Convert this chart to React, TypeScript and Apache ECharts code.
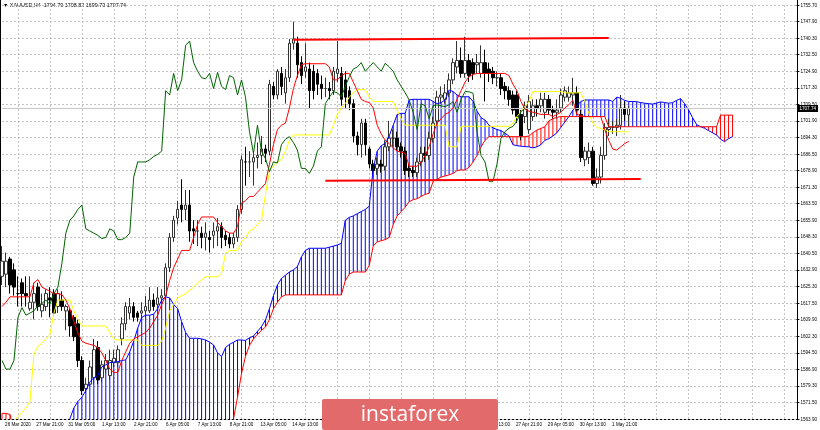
import { useEffect, useRef } from 'react';
import * as echarts from 'echarts';

// y-axis tick labels, bottom to top
const priceLabels = ['1563.90','1571.50','1579.30','1586.90','1594.50','1602.30','1609.90','1617.50','1625.30','1632.90','1640.50','1648.30','1655.90','1663.50','1671.30','1678.90','1686.50','1694.30','1701.90','1709.50','1717.30','1724.90','1732.50','1740.30','1747.90','1755.70'];
const priceMin = 1563.9;
const priceMax = 1755.7;

// time labels, one every 8 bars (those under the logo are not drawn)
const timeLabels = ['26 Mar 2020','27 Mar 21:00','31 Mar 05:00','1 Apr 13:00','2 Apr 21:00','6 Apr 05:00','7 Apr 13:00','8 Apr 21:00','13 Apr 05:00','14 Apr 13:00','15 Apr 21:00','17 Apr 05:00','20 Apr 13:00','21 Apr 21:00','23 Apr 05:00','24 Apr 13:00','27 Apr 21:00','29 Apr 05:00','30 Apr 13:00','1 May 21:00'];
const labelsUnderLogo = [10, 11, 12, 13, 14];

const headerText = 'XAUUSD,H4  1704.79 1708.82 1699.73 1707.74';
const lastClose = 1707.74;

const open = [
1630,1631,1638,1633,1622,1627,1622,1615,1618,1625,
1614,1616,1620,1622,1616,1619,1614,1614,1611,1608,
1591,1578,1580,1583,1597,1583,1587,1584,1590,1590,
1601,1608,1613,1616,1613,1613,1614,1614,1619,1617,
1620,1621,1634,1648,1657,1663,1661,1663,1652,1651,
1650,1648,1648,1649,1651,1653,1649,1648,1645,1648,
1661,1683,1683,1683,1685,1686,1689,1688,1718,1714,
1724,1715,1722,1738,1738,1729,1725,1726,1725,1724,
1719,1717,1717,1716,1724,1724,1721,1716,1710,1695,
1691,1701,1689,1682,1680,1682,1681,1690,1694,1694,
1690,1688,1680,1679,1678,1683,1687,1686,1694,1702,
1713,1712,1715,1721,1727,1730,1724,1730,1729,1728,
1724,1729,1726,1725,1722,1722,1718,1716,1714,1714,
1705,1704,1698,1704,1709,1709,1706,1712,1707,1706,
1708,1713,1713,1714,1715,1705,1684,1685,1688,1673,
1676,1686,1698,1699,1699,1700,1708,1704.79];
const high = [
1644,1641,1639,1636,1630,1629,1630,1630,1627,1627,
1622,1624,1625,1624,1624,1623,1617,1615,1612,1610,
1593,1583,1591,1601,1600,1591,1594,1596,1596,1598,
1611,1618,1620,1618,1614,1618,1621,1625,1622,1625,
1624,1636,1650,1658,1665,1675,1670,1670,1656,1656,
1653,1655,1651,1655,1657,1655,1651,1650,1650,1663,
1686,1690,1688,1688,1692,1695,1691,1721,1720,1726,
1727,1726,1740,1748,1741,1732,1738,1729,1728,1726,
1723,1722,1720,1727,1739,1727,1725,1718,1712,1697,
1703,1703,1690,1684,1685,1684,1693,1702,1698,1697,
1692,1690,1682,1681,1685,1690,1690,1697,1704,1716,
1718,1719,1724,1731,1739,1736,1741,1733,1731,1733,
1737,1735,1729,1727,1725,1724,1720,1718,1716,1716,
1707,1711,1714,1712,1712,1715,1715,1714,1709,1712,
1717,1718,1718,1722,1718,1707,1690,1692,1690,1680,
1690,1701,1703,1702,1703,1714,1711,1708.82];
const low = [
1626,1625,1622,1621,1616,1616,1616,1614,1610,1614,
1611,1614,1611,1612,1613,1614,1605,1602,1600,1588,
1575,1576,1579,1580,1580,1581,1585,1582,1588,1588,
1598,1605,1610,1609,1609,1610,1611,1613,1614,1614,
1617,1619,1632,1646,1654,1655,1656,1646,1645,1644,
1643,1642,1641,1643,1644,1643,1644,1643,1643,1646,
1659,1672,1676,1672,1680,1682,1683,1686,1712,1712,
1714,1710,1720,1735,1722,1719,1722,1708,1712,1714,
1712,1713,1712,1714,1720,1709,1708,1707,1692,1686,
1685,1686,1680,1677,1677,1678,1679,1688,1690,1688,
1685,1677,1676,1676,1676,1681,1683,1684,1692,1700,
1710,1710,1713,1719,1724,1722,1722,1720,1721,1724,
1722,1711,1720,1719,1718,1714,1712,1709,1705,1701,
1693,1701,1696,1702,1704,1706,1703,1705,1703,1703,
1706,1711,1711,1709,1705,1683,1681,1682,1672,1671,
1673,1684,1695,1696,1695,1698,1702,1699.73];
const close = [
1637,1637,1626,1625,1622,1622,1621,1618,1622,1616,
1617,1622,1619,1613,1622,1616,1616,1607,1602,1591,
1577,1580,1588,1596,1582,1589,1591,1591,1592,1596,
1608,1616,1616,1611,1611,1614,1616,1619,1616,1620,
1621,1634,1648,1656,1661,1661,1663,1651,1651,1651,
1648,1650,1647,1651,1653,1648,1647,1645,1648,1661,
1684,1683,1683,1685,1686,1689,1687,1719,1714,1725,
1718,1722,1738,1740,1728,1723,1727,1716,1716,1719,
1717,1717,1716,1725,1726,1712,1713,1710,1695,1691,
1701,1691,1682,1679,1682,1681,1690,1694,1694,1690,
1688,1679,1679,1678,1683,1687,1686,1694,1701,1713,
1714,1715,1721,1729,1730,1724,1730,1723,1724,1729,
1729,1724,1724,1722,1722,1717,1716,1712,1707,1704,
1695,1709,1711,1709,1708,1712,1712,1707,1706,1707,
1714,1716,1715,1715,1707,1685,1688,1688,1673,1676,
1686,1699,1699,1699,1700,1708,1705,1707.74];

// Tenkan-sen (red)
const tenkan = [
1616,1618,1620.5,1620.5,1620.5,1620.5,1620.5,1620.5,1627,1628.5,
1625,1624,1623,1622,1622,1621.5,1619,1615,1609,1604,
1600,1599,1598.5,1598,1597,1594.5,1591,1587,1585.5,1585.5,
1591,1595,1599,1601,1602,1603,1604,1606,1609,1612,
1617,1621,1628,1634,1638,1642,1642,1642,1648,1654,
1657.5,1657.5,1657.5,1657.5,1655,1653,1651,1650,1650,1653,
1664,1665,1667,1667,1669,1671,1673,1682,1691,1698,
1700,1701,1708,1717,1723,1728,1728.5,1728.5,1728.5,1728.5,
1728.5,1728.5,1727,1721,1721,1723,1724,1724,1720,1716,
1712,1711,1710.5,1708,1700,1696,1693,1691.5,1689.5,1688,
1687.5,1687,1681,1681,1681,1683,1686,1690,1696,1701,
1703,1705,1706,1708,1712,1716,1720,1722.5,1723.5,1724,
1724,1724,1724,1724,1724,1724,1724,1723,1719,1716,
1711,1707.5,1706.5,1706,1705.5,1705,1705,1705,1704,1705,
1706,1708,1709.5,1711.5,1705,1704.5,1704,1704,1704,1704,
1704,1698,1693,1689,1688.5,1690,1691.5,1692.5];

// Kijun-sen (yellow)
const kijun = [
1555,1557,1560,1563,1565,1567,1569,1572,1594,1597.5,
1599,1601,1603,1613,1619,1619,1619,1619,1614,1610,
1607,1607,1607,1607,1607,1607,1607,1604,1601,1600.5,
1600.5,1600.5,1600.5,1600.5,1600.5,1598,1598,1598,1598,1598,
1600,1606,1614,1617,1620,1621,1622,1623.5,1625,1627,
1628.3,1629.8,1629.8,1629.8,1629.8,1631.4,1640.7,1642,1642,1642,
1646,1648,1651,1652,1654,1656,1668,1679,1681,1683,
1684,1688,1693,1695.5,1695.5,1695.5,1695.5,1695.5,1695.5,1695.5,
1695.5,1695.5,1695.5,1700,1705,1708,1710,1713,1715,1716.5,
1716.5,1716.5,1713,1711,1711,1711,1711,1711,1711,1707,
1703,1700,1700,1700,1700,1700,1700,1700,1700,1700,
1700,1700,1690,1690,1690,1699.5,1699.5,1699.5,1699.5,1699.5,
1699.5,1699.5,1699.5,1699.5,1699.5,1699.5,1699.5,1699.5,1701,1704,
1706.3,1708.5,1711,1715.6,1715.6,1715.6,1715.6,1715.6,1715.6,1715.6,
1715.6,1715,1715,1715,1715,1715,1711,1705.5,1701,1699,
1698.5,1697.8,1697,1697,1697,1697,1697,1697];

// Chikou span (green), drawn 26 bars back
const chikou = [
1591,1587,1587,1591,1611,1615.5,1612,1613,1614,1616.5,
1617.5,1619,1617,1622,1625,1636,1650,1656,1658,1661,
1663,1652,1651,1650,1649,1647.5,1648,1652,1651,1647,
1647,1648,1650,1676,1683,1683,1683,1684,1685.5,1686.5,
1688,1716,1714,1724,1716,1721,1737,1739,1729,1725,
1722,1721.5,1724,1717,1724.5,1718,1716.5,1723,1722,1714,
1721,1713,1697,1687,1700,1688,1684.5,1678.5,1683,1682.5,
1691,1693.5,1694.7,1692,1688.5,1680,1680,1677.7,1681,1688,
1690,1710,1713,1715.6,1715,1713.2,1718,1722.5,1726,1727,
1729,1725,1727,1729,1727,1725,1728.7,1727,1725,1721,
1718,1715,1711.7,1706,1698,1710,1709,1703,1709,1709.4,
1709,1708.6,1709.5,1710.9,1706,1712,1715.6,1715.5,1714.8,1697,
1686,1683,1674,1674,1682,1694,1697,1698.6,1699.5,1702,
1706.3,1707.74];

// Senkou span A (blue), drawn 26 bars ahead
const senkouA = [
1555,1554,1553,1552,1552,1552,1552,1552,1552,1553,
1554,1555,1556,1557,1558,1560,1562,1564,1569,1572,
1574,1577,1581,1583,1584,1588,1589,1590,1590.3,1590.5,
1591,1591.3,1595,1600,1606,1611,1612,1612,1612.5,1615,
1619,1620.5,1620,1617,1615,1609,1604,1601.3,1601.3,1601.3,
1601,1600.5,1599.5,1598.2,1594.5,1592.8,1597,1598.5,1599.5,1600.5,
1600.5,1600.3,1601.5,1602.3,1604.5,1606.7,1609.8,1615,1621,1626,
1629,1630.5,1632,1633,1634.5,1639,1642,1643,1643,1643,
1643,1643,1643.5,1644,1644.5,1645.3,1656,1657.3,1658,1659,
1660,1661,1662.5,1680,1688,1690.5,1691.6,1695,1700,1705,
1705.5,1705.5,1711.7,1712,1712,1712,1712,1712,1711,1710,
1710.5,1711.7,1716.3,1715.6,1714,1713.2,1713.2,1713.2,1711,1706.5,
1703.5,1702.4,1700,1698.8,1698,1697.5,1696.3,1695,1691,1690.5,
1690.3,1690.1,1690,1689.5,1690,1691,1693,1693.8,1695,1696.5,
1699,1701.5,1704,1707,1709,1711,1711.7,1711.7,1711.7,1711.7,
1711.7,1711.7,1711.7,1711,1713,1712.5,1711.5,1711,1711,1710.9,
1710.5,1710.2,1710,1709.8,1710.3,1710.8,1710.5,1710.2,1710.5,1711.5,
1712.3,1710,1707,1703.5,1700.3,1699.3,1698.6,1697.5,1696.5,1695.5,
1693.5,1692.4,1693.8,1694.7];

// Senkou span B (red), drawn 26 bars ahead
const senkouB = [
1566.5,1566.5,1566,1558,1556,1556,1556,1556,1556,1556,
1556,1556,1556,1556,1556,1556,1555,1555,1555,1555,
1555,1555,1555,1555,1555,1555,1555,1555,1555,1555,
1554,1554,1554,1554,1554,1554,1554,1554,1554,1554,
1554,1554,1554,1554,1554,1554,1554,1554,1554,1554,
1554,1554,1554,1554,1554,1554,1555,1560,1564,1574,
1585,1593,1598,1601,1603,1605,1606.5,1610,1615,1618,
1620.5,1621.4,1621.4,1621.4,1621.4,1621.4,1621.4,1621.4,1621.4,1621.4,
1621.4,1621.4,1621.4,1621.4,1621.4,1621.4,1628,1631,1632,1632,
1632,1632,1635,1644,1646,1646.5,1647,1648,1654,1658,
1660,1662,1664.6,1665.5,1666,1667,1668,1668.5,1674,1675,
1676,1676.5,1677,1677.7,1679,1679.3,1679.3,1680.5,1683,1686,
1690,1693,1694.7,1694.7,1694.7,1694.7,1694.7,1694.7,1694.7,1694.7,
1694.7,1694.7,1695,1696.5,1697.8,1698.5,1699.3,1702,1703,1703.7,
1704,1704,1704,1704,1704,1704,1704,1704,1704,1704,
1704,1704,1699.3,1699.3,1699.3,1699.3,1699.3,1699.3,1699.3,1699.3,
1699.3,1699.3,1699.3,1699.3,1699.3,1699.3,1699.3,1699.3,1699.3,1699.3,
1699.3,1699.3,1699.3,1699.3,1699.3,1699.3,1699.3,1699.3,1699.3,1699.3,
1704.7,1704.7,1704.7,1704.7];

// hand-drawn horizontal levels: [bar index], [price]
const resistanceIdx = [73, 152];
const resistanceVal = [1739.6, 1740.4];
const supportIdx = [81, 160];
const supportVal = [1674.3, 1675.1];

const slotCount = 200;
const labelEvery = 8;
const labelOffset = 4;

export default function App() {
  const ref = useRef<HTMLDivElement>(null);
  useEffect(() => {
    const chart = echarts.init(ref.current!, null, { renderer: 'svg' });
    const cats = Array.from({ length: slotCount }, (_, i) => String(i));
    const candles = open.map((o, i) => [o, close[i], low[i], high[i]]);
    const cloudBase = senkouA.map((a, i) => Math.min(a, senkouB[i]));
    const cloudFill = senkouA.map((a, i) => ({
      value: Math.abs(a - senkouB[i]),
      itemStyle: { color: a >= senkouB[i] ? '#0000ff' : '#ff0000' },
    }));
    const labelIndex = (idx: number) => (idx - labelOffset) / labelEvery;
    const isLabelSlot = (idx: number) => {
      const k = labelIndex(idx);
      return Number.isInteger(k) && k >= 0 && k < timeLabels.length && !labelsUnderLogo.includes(k);
    };
    const isGridSlot = (idx: number) =>
      idx >= labelOffset && (idx - labelOffset) % labelEvery === 0;

    const lineBase = { type: 'line', symbol: 'none', silent: true, xAxisIndex: 0, yAxisIndex: 0 } as any;

    chart.setOption({
      animation: false,
      textStyle: { fontFamily: 'Liberation Sans' },
      grid: { left: 2, right: 23, top: 5, bottom: 11 },
      xAxis: {
        type: 'category',
        data: cats,
        boundaryGap: false,
        axisLine: { show: false },
        axisTick: { show: false },
        axisLabel: {
          interval: (idx: number) => isLabelSlot(idx),
          formatter: (_v: string, idx: number) => (isLabelSlot(idx) ? timeLabels[labelIndex(idx)] : ''),
          fontSize: 4.6,
          color: '#000',
          margin: 3,
        },
        splitLine: {
          show: true,
          interval: (idx: number) => isGridSlot(idx),
          lineStyle: { color: '#c4c4c4', type: [2, 2], width: 1 },
        },
      },
      yAxis: [
        { type: 'value', min: priceMin, max: priceMax, show: false },
        {
          type: 'value', min: 0, max: priceLabels.length - 1, interval: 1, position: 'right',
          axisLine: { show: false },
          axisTick: { show: true, length: 3, lineStyle: { color: '#000' } },
          axisLabel: {
            formatter: (v: number) => priceLabels[Math.round(v)] ?? '',
            fontSize: 4.6, color: '#000', margin: 4,
          },
          splitLine: { show: true, lineStyle: { color: '#c4c4c4', type: [2, 2], width: 1 } },
        },
      ],
      series: [
        { type: 'bar', stack: 'cloud', data: cloudBase, barWidth: 1, itemStyle: { color: 'transparent' }, silent: true, z: 1 },
        { type: 'bar', stack: 'cloud', data: cloudFill, barWidth: 1, silent: true, z: 1 },
        {
          type: 'candlestick', data: candles, barWidth: 3, silent: true, z: 3,
          itemStyle: { color: '#ffffff', color0: '#000000', borderColor: '#333333', borderColor0: '#000000', borderWidth: 1 },
          markLine: {
            silent: true, symbol: ['none', 'none'], animation: false,
            lineStyle: { color: '#c8c8c8', width: 1, type: 'solid' },
            label: {
              show: true, position: 'end', formatter: lastClose.toFixed(2),
              backgroundColor: '#000', color: '#fff', fontSize: 4.6, padding: [1, 2], distance: 1,
            },
            data: [{ yAxis: lastClose }],
          },
        },
        { ...lineBase, data: senkouA, lineStyle: { color: '#0000ff', width: 1 }, z: 4 },
        { ...lineBase, data: senkouB, lineStyle: { color: '#ff0000', width: 1 }, z: 4 },
        { ...lineBase, data: kijun, lineStyle: { color: '#ffff00', width: 1 }, z: 5 },
        { ...lineBase, data: tenkan, lineStyle: { color: '#ff0000', width: 1 }, z: 5 },
        { ...lineBase, data: chikou, lineStyle: { color: '#006400', width: 1 }, z: 5 },
        { ...lineBase, data: resistanceIdx.map((x, i) => [x, resistanceVal[i]]), lineStyle: { color: '#ff0000', width: 2 }, z: 6 },
        { ...lineBase, data: supportIdx.map((x, i) => [x, supportVal[i]]), lineStyle: { color: '#ff0000', width: 2 }, z: 6 },
      ],
      graphic: [
        { type: 'line', silent: true, shape: { x1: 0.5, y1: 0, x2: 0.5, y2: 419.5 }, style: { stroke: '#000', lineWidth: 1 } },
        { type: 'line', silent: true, shape: { x1: 0, y1: 419.5, x2: 797.5, y2: 419.5 }, style: { stroke: '#000', lineWidth: 1 } },
        { type: 'line', silent: true, shape: { x1: 797.5, y1: 0, x2: 797.5, y2: 419.5 }, style: { stroke: '#000', lineWidth: 1 } },
        {
          type: 'text', silent: true, x: 3, y: 5,
          style: { text: '\u25BC ' + headerText, fontSize: 5.4, fontFamily: 'Liberation Sans', fill: '#000', textVerticalAlign: 'middle', verticalAlign: 'middle' },
        },
        { type: 'rect', silent: true, z: 100, shape: { x: 322, y: 399, width: 176, height: 31, r: 2 }, style: { fill: '#e36a6a' } },
        {
          type: 'text', silent: true, z: 101, x: 410, y: 413,
          style: { text: 'instaforex', fill: '#ffffff', fontSize: 21, fontFamily: 'Open Sans', textAlign: 'center', align: 'center', textVerticalAlign: 'middle', verticalAlign: 'middle' },
        },
      ],
    });
    return () => chart.dispose();
  }, []);
  return <div ref={ref} style={{ position: 'fixed', left: 0, top: 0, width: 820, height: 430 }} />;
}
